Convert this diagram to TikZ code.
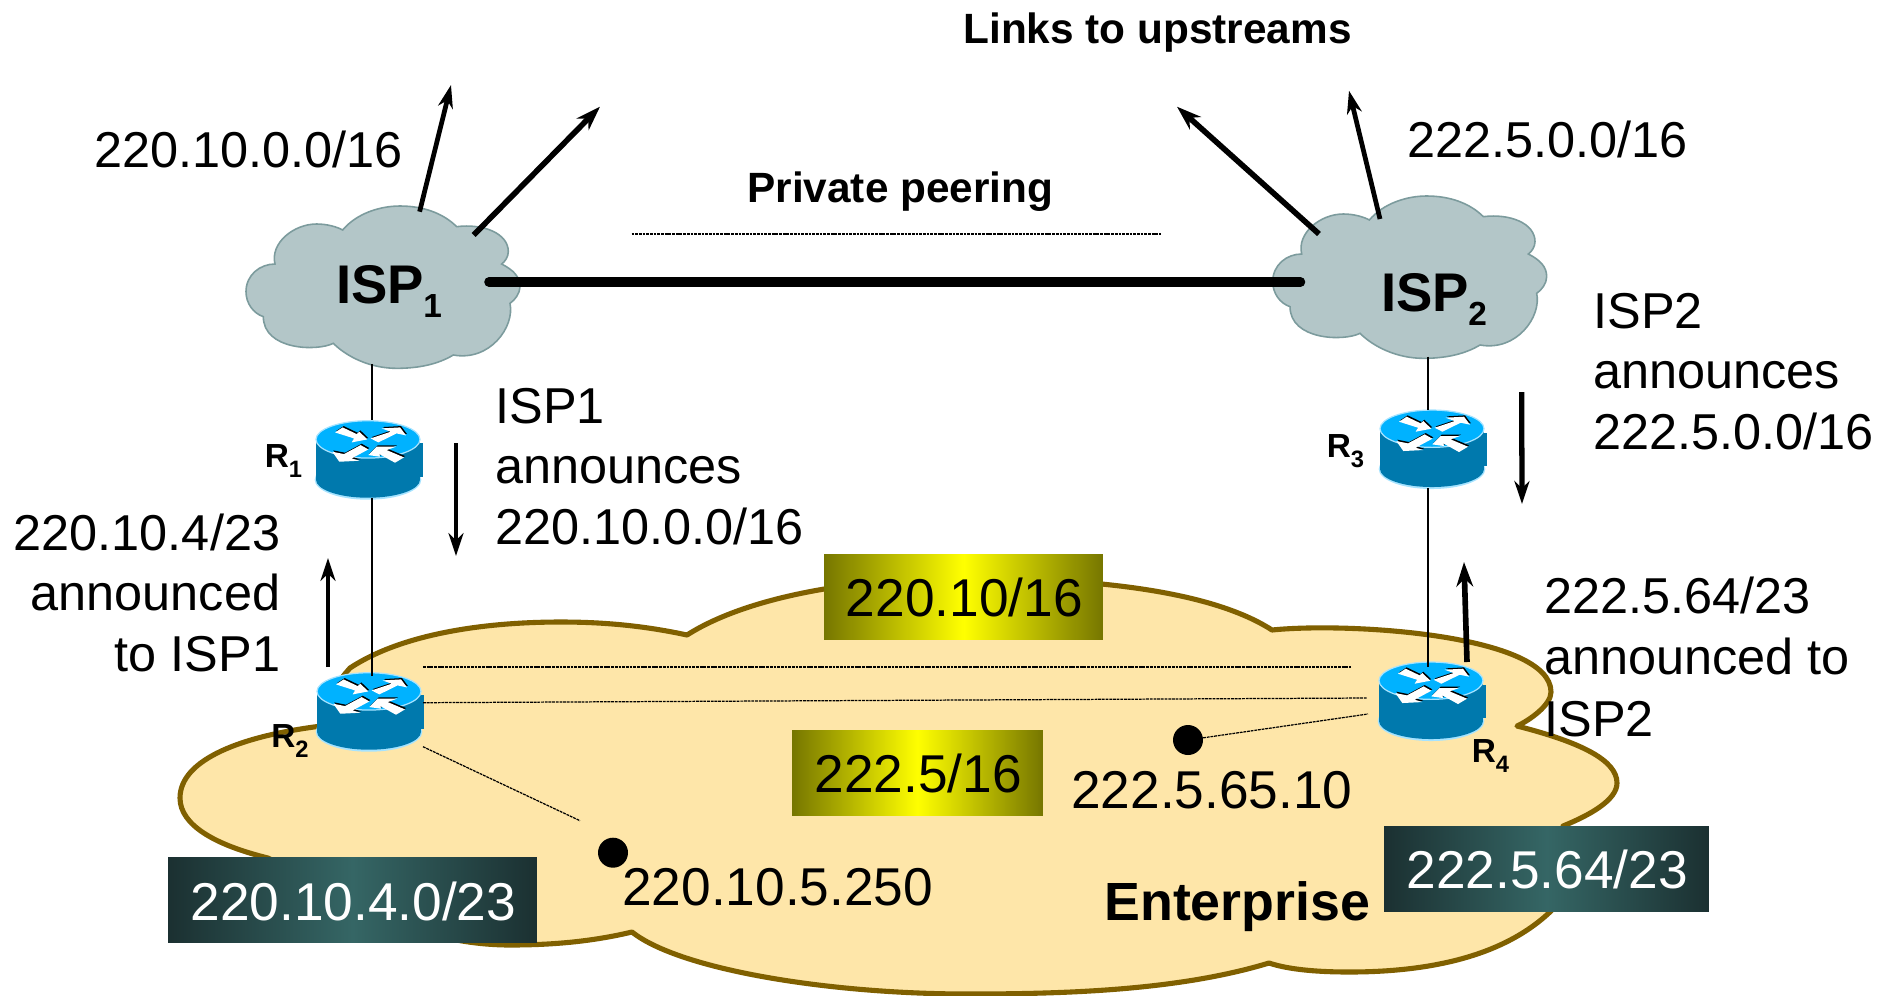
\documentclass[tikz,border=0pt]{standalone}
\usepackage{fontspec}
\setmainfont{Liberation Sans}
\usetikzlibrary{arrows.meta,calc}
\definecolor{entfill}{HTML}{FEE6A9}
\definecolor{entline}{HTML}{806000}
\definecolor{cloudfill}{HTML}{B3C6C8}
\definecolor{cloudline}{HTML}{7C9B9D}
\definecolor{rtop}{HTML}{00B2FF}
\definecolor{rbody}{HTML}{0079AD}
\definecolor{rrim}{HTML}{A6E3FF}
\definecolor{olivedark}{HTML}{767600}
\definecolor{tealdark}{HTML}{1B3031}
\definecolor{teallight}{HTML}{356665}
\tikzset{
  txt/.style={font=\fontsize{28.7}{34.2}\selectfont,inner sep=0pt,anchor=base west},
  innertxt/.style={font=\fontsize{30.3}{34.2}\selectfont,inner sep=0pt,anchor=base west},
  boldtxt/.style={font=\fontsize{24.1}{28}\selectfont\bfseries,inner sep=0pt,anchor=base west},
  isplab/.style={font=\fontsize{31}{34}\selectfont\bfseries,inner sep=0pt,anchor=base west},
  rlab/.style={font=\fontsize{19}{22}\selectfont\bfseries,inner sep=0pt,anchor=base west},
  labelbox/.style={inner sep=0pt,minimum height=1.7cm,text height=23pt,text depth=0pt,font=\fontsize{30.3}{34.2}\selectfont},
  yellowbox/.style={labelbox,left color=olivedark,right color=olivedark,middle color=yellow,text=black},
  tealbox/.style={labelbox,left color=tealdark,right color=tealdark,middle color=teallight,text=white},
  core/.style={inner sep=0pt,outer sep=0pt},
  hostdot/.style={circle,fill=black,inner sep=0pt,minimum size=0.6cm},
  thinlink/.style={line width=0.6pt,black},
  dashlink/.style={line width=0.7pt,black,dash pattern=on 1.6pt off 0.5pt},
  up1/.style={line width=2.7pt,-{Stealth[length=13pt,width=8.5pt,inset=4pt]}},
  up2/.style={line width=3.2pt,-{Stealth[length=14pt,width=9.5pt,inset=4.5pt]}},
}
\newcommand{\cloudat}[2]{%
  \begin{scope}[shift={(#1,#2)},x=0.006667cm,y=-0.006667cm]
    \path[fill=cloudfill,draw=cloudline,line width=0.9pt]
      (368,150) .. controls (410,100) and (480,78) .. (540,78)
      .. controls (610,78) and (670,100) .. (710,140)
      .. controls (790,130) and (865,160) .. (865,215)
      .. controls (865,230) and (855,245) .. (845,252)
      .. controls (880,270) and (900,290) .. (900,320)
      .. controls (900,340) and (885,360) .. (870,370)
      .. controls (885,440) and (810,545) .. (700,525)
      .. controls (650,555) and (590,565) .. (530,565)
      .. controls (450,565) and (380,530) .. (340,490)
      .. controls (290,515) and (130,510) .. (130,410)
      .. controls (100,400) and (78,370) .. (78,335)
      .. controls (78,285) and (120,252) .. (165,252)
      .. controls (150,190) and (220,132) .. (290,132)
      .. controls (320,132) and (350,140) .. (368,150) -- cycle;
  \end{scope}}
\newcommand{\rarrows}[1]{%
    \fill[#1] (-99,-21) -- (-76,-36) -- (-34,-16) -- (-26,-23) -- (-2,0) -- (-49,9) -- (-42,-3) -- cycle;
    \fill[#1] (8,-3) -- (68,-23) -- (41,-33) -- (96,-36) -- (114,-12) -- (86,-18) -- (31,9) -- cycle;
    \fill[#1] (-22,17) -- (1,30) -- (-49,57) -- (-26,64) -- (-86,67) -- (-107,37) -- (-72,44) -- cycle;
    \fill[#1] (1,47) -- (26,22) -- (84,22) -- (56,32) -- (108,54) -- (81,70) -- (34,44) -- (36,52) -- cycle;
}
\newcommand{\routerat}[2]{%
  \begin{scope}[shift={(#1,#2)},x=0.006667cm,y=-0.006667cm]
    \fill[rrim] (0,121) ellipse [x radius=160,y radius=60];
    \fill[rbody] (-156,0) rectangle (156,121);
    \fill[rbody] (0,121) ellipse [x radius=156,y radius=54];
    \fill[rbody] (150,12) rectangle (164,112);
    \path[fill=rtop,draw=rrim,line width=0.7pt] (0,0) ellipse [x radius=156,y radius=56];
    \begin{scope}[shift={(3,-4)}]\rarrows{black}\end{scope}
    \rarrows{white}
  \end{scope}}
\begin{document}
\begin{tikzpicture}[x=0.02cm,y=-0.02cm]
\useasboundingbox (0,0) rectangle (1894,995);
% Enterprise cloud
\path[fill=entfill,draw=entline,line width=2.9pt,line join=round]
  (687,635) .. controls (745,598) and (850,578) .. (965,578)
  .. controls (1090,578) and (1210,590) .. (1272,630)
  .. controls (1350,622) and (1551,635) .. (1551,692)
  .. controls (1551,705) and (1530,720) .. (1517,726)
  .. controls (1580,742) and (1617,760) .. (1617,783)
  .. controls (1617,800) and (1590,815) .. (1563,826)
  .. controls (1570,860) and (1565,895) .. (1551,911)
  .. controls (1500,960) and (1420,972) .. (1349,972)
  .. controls (1320,972) and (1290,970) .. (1269,963)
  .. controls (1180,990) and (1070,994) .. (968,994)
  .. controls (830,994) and (680,970) .. (632,932)
  .. controls (590,942) and (550,945) .. (510,945)
  .. controls (400,945) and (310,880) .. (268,858)
  .. controls (215,845) and (180,825) .. (180,798)
  .. controls (180,760) and (240,735) .. (330,725)
  .. controls (325,700) and (335,685) .. (350,668)
  .. controls (400,635) and (480,622) .. (561,622)
  .. controls (610,622) and (650,627) .. (687,635) -- cycle;
% ISP clouds
\cloudat{220}{180}
\cloudat{1246.7}{170}
% Invisible cores carrying the connector ends
\node[core,minimum width=4.68cm,minimum height=3.28cm] (isp1) at (372,282) {};
\node[core,minimum width=5.1cm,minimum height=2.99cm] (isp2) at (1428,282) {};
% Routers
\routerat{368}{439.4}
\routerat{1432}{428.7}
\routerat{369}{691.4}
\routerat{1431}{680.7}
\node[core,minimum width=2.04cm,minimum height=1.56cm] (r1) at (372,459) {};
\node[core,minimum width=2.04cm,minimum height=1.56cm] (r3) at (1428,449) {};
\node[core,minimum width=2.04cm,minimum height=1.5cm] (r2) at (372,713.5) {};
\node[core,minimum width=2.04cm,minimum height=1.48cm] (r4) at (1428,704) {};
% Label boxes
\node[yellowbox,minimum width=5.58cm] (boxa) at (963.5,596.5) {\kern1pt 220.10/16};
\node[yellowbox,minimum width=5.02cm] (boxb) at (917.5,772.5) {\kern1pt 222.5/16};
\node[tealbox,minimum width=7.38cm] (boxc) at (352.5,900) {\kern1pt 220.10.4.0/23};
\node[tealbox,minimum width=6.5cm] (boxd) at (1546.5,868.5) {\kern1pt 222.5.64/23};
% Hosts
\node[hostdot] (hosta) at (613,852.7) {};
\node[hostdot] (hostb) at (1188,740) {};
% Connector free ends
\coordinate (p1a) at (631.5,234); \coordinate (p1b) at (1161,234);
\coordinate (e1a) at (423,667); \coordinate (e1b) at (1351,667);
\coordinate (e2a) at (423,702.7); \coordinate (e2b) at (1367,698);
\coordinate (e3a) at (423,746.7); \coordinate (e3b) at (580,820.7);
\coordinate (e4b) at (1368,714);
\coordinate (u1s) at (419.6,211.7); \coordinate (u1e) at (451,85);
\coordinate (u2s) at (473.7,235); \coordinate (u2e) at (600,106.7);
\coordinate (u3s) at (1319,234); \coordinate (u3e) at (1177,106.7);
\coordinate (u4s) at (1380,219); \coordinate (u4e) at (1349,90.7);
\coordinate (a1s) at (456,443); \coordinate (a1e) at (456,556);
\coordinate (a2s) at (328,667); \coordinate (a2e) at (328,558);
\coordinate (a3s) at (1521.7,392); \coordinate (a3e) at (1522,504);
\coordinate (a4s) at (1467,662); \coordinate (a4e) at (1464,562);
% Links
\draw[line width=5.4pt,line cap=round] (isp1.east) -- (isp2.west);
\draw[thinlink] (isp1.south) -- (r1.north);
\draw[thinlink] (r1.south) -- (r2.north);
\draw[thinlink] (isp2.south) -- (r3.north);
\draw[thinlink] (r3.south) -- (r4.north);
\draw[dashlink] (p1a) -- (p1b);
\draw[dashlink] (e1a) -- (e1b);
\draw[dashlink] (e2a) -- (e2b);
\draw[dashlink] (e3a) -- (e3b);
\draw[dashlink] (hostb) -- (e4b);
% Arrows
\draw[up1] (u1s) -- (u1e);
\draw[up2] (u2s) -- (u2e);
\draw[up2] (u3s) -- (u3e);
\draw[up1] (u4s) -- (u4e);
\draw[up1,line width=1.9pt] (a1s) -- (a1e);
\draw[up1,line width=2pt] (a2s) -- (a2e);
\draw[up1,line width=3pt] (a3s) -- (a3e);
\draw[up2] (a4s) -- (a4e);
% Text
\node[txt] (t1) at (94,167) {220.10.0.0/16};
\node[txt] (t2) at (1407,157) {222.5.0.0/16};
\node[txt,align=left] (t3) at (495,544) {ISP1\\announces\\220.10.0.0/16};
\node[txt,align=left] (t4) at (1593,449) {ISP2\\announces\\222.5.0.0/16};
\node[txt,align=right,anchor=base east] (t5) at (280.5,671) {220.10.4/23\\announced\\to ISP1};
\node[txt,font=\fontsize{28.7}{34.8}\selectfont,align=left] (t6) at (1544,736) {222.5.64/23\\announced to\\ISP2};
\node[innertxt] (t7) at (1071,808) {222.5.65.10};
\node[innertxt] (t8) at (622,905) {220.10.5.250};
\node[boldtxt,font=\fontsize{30.6}{34}\selectfont\bfseries] (t9) at (1104,920) {Enterprise};
\node[boldtxt] (t10) at (963,43) {Links to upstreams};
\node[boldtxt] (t11) at (747,202) {Private peering};
\node[isplab] (l1) at (336,303) {ISP\kern-0.5pt\raisebox{-8pt}{\fontsize{19}{20}\selectfont 1}};
\node[isplab] (l2) at (1381,311) {ISP\kern-0.5pt\raisebox{-8pt}{\fontsize{19}{20}\selectfont 2}};
\node[rlab] (lr1) at (264.5,467) {R\raisebox{-5.7pt}{\fontsize{13.5}{16}\selectfont 1}};
\node[rlab] (lr2) at (271,747) {R\raisebox{-5.7pt}{\fontsize{13.5}{16}\selectfont 2}};
\node[rlab] (lr3) at (1326.5,457) {R\raisebox{-5.7pt}{\fontsize{13.5}{16}\selectfont 3}};
\node[rlab] (lr4) at (1471.5,762) {R\raisebox{-5.7pt}{\fontsize{13.5}{16}\selectfont 4}};
\end{tikzpicture}
\end{document}
